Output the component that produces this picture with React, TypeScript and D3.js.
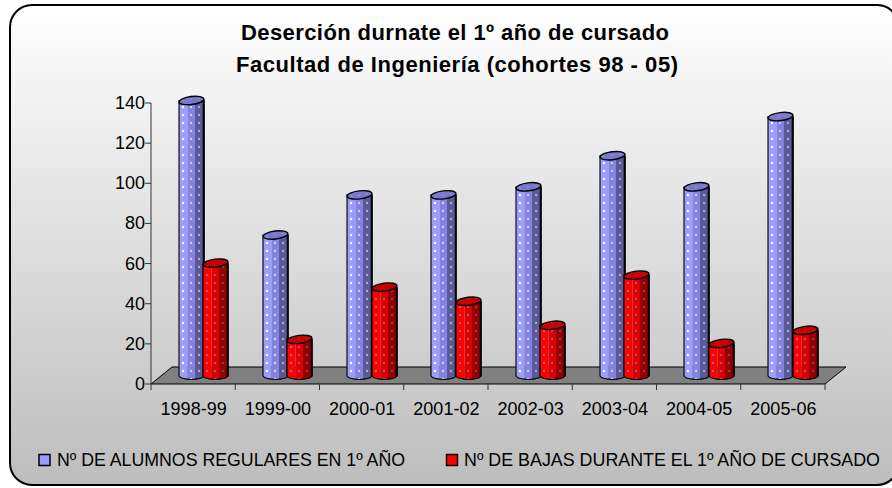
import React from "react";
import * as d3 from "d3";

const categories = ["1998-99", "1999-00", "2000-01", "2001-02", "2002-03", "2003-04", "2004-05", "2005-06"];
const regulares = [137, 70, 90, 90, 94, 109.5, 94, 129];
const bajas = [56, 18, 44, 37, 25, 50, 16, 22.5];
const yTicks = [0, 20, 40, 60, 80, 100, 120, 140];
const titleLines = ["Deserción durnate el 1º año de cursado", "Facultad de Ingeniería (cohortes 98 - 05)"];
const legendLabels = ["Nº DE ALUMNOS REGULARES EN 1º AÑO", "Nº DE BAJAS DURANTE EL 1º AÑO DE CURSADO"];

const W = 892, H = 488;
const FONT = "'Liberation Sans', Arial, sans-serif";
const y = d3.scaleLinear().domain([0, 140]).range([384, 103]);
const x = d3.scaleBand<string>().domain(categories).range([151, 825]);
const depthX = 21, depthY = 17;
const barW = 25, rx = 12.5, ry = 4;

function Cylinder({ cx, v, id }: { cx: number; v: number; id: string }) {
  const top = y(v) - depthY / 2;
  const base = y(0) - depthY / 2;
  const h = base - top;
  // local coordinates so that every bar's stripes and dots line up the same way
  const body = `M0,${top} L0,${base} A${rx},${ry} 0 0 0 ${barW},${base} L${barW},${top} Z`;
  const cid = `clip-${id}-${Math.round(cx)}`;
  return (
    <g transform={`translate(${Math.round(cx - rx)},0)`}>
      <clipPath id={cid}><path d={body} /></clipPath>
      <g clipPath={`url(#${cid})`}>
        <rect x={0} y={top} width={8.5} height={h + ry + 1} fill={`url(#${id}-a)`} />
        <rect x={8.5} y={top} width={7.5} height={h + ry + 1} fill={`url(#${id}-b)`} />
        <rect x={16} y={top} width={8} height={h + ry + 1} fill={`url(#${id}-c)`} />
      </g>
      <path d={body} fill="none" stroke="#000" strokeWidth={1.1} />
      <line x1={barW - 0.3} x2={barW - 0.3} y1={top} y2={base + 1} stroke="#000" strokeWidth={2} />
      <ellipse cx={rx} cy={top} rx={rx} ry={ry} fill={`url(#${id}-t)`} stroke="#000" strokeWidth={1.4} transform={`rotate(-7 ${rx} ${top})`} />
    </g>
  );
}

function Pat({ id, bg, dot, halo }: { id: string; bg: string; dot: string; halo: string }) {
  return (
    <pattern id={id} width={8} height={8} patternUnits="userSpaceOnUse">
      <rect width={8} height={8} fill={bg} />
      <rect x={2.5} y={1.5} width={3} height={3} fill={halo} opacity={0.3} />
      <rect x={3} y={2} width={2} height={2} fill={dot} />
    </pattern>
  );
}

export default function App() {
  const band = x.bandwidth();
  const [floorA, floorB] = x.range();
  return (
    <svg width={W} height={H} style={{ position: "absolute", left: 0, top: 0, display: "block" }}>
      <defs>
        <linearGradient id="bg" x1="0" x2="0" y1="0" y2="1">
          <stop offset="0" stopColor="#ffffff" />
          <stop offset="1" stopColor="#bdbdbd" />
        </linearGradient>
        <Pat id="blue-a" bg="#9c9cff" dot="#ffffff" halo="#ccccff" />
        <Pat id="blue-b" bg="#8282e0" dot="#d0d0f4" halo="#a8a8e8" />
        <Pat id="blue-c" bg="#5a5a9a" dot="#a8a8c0" halo="#8080a8" />
        <Pat id="blue-t" bg="#7a7acc" dot="#8888d8" halo="#7a7acc" />
        <Pat id="red-a" bg="#ff0000" dot="#c86090" halo="#e03050" />
        <Pat id="red-b" bg="#dc0000" dot="#a85080" halo="#c02840" />
        <Pat id="red-c" bg="#960000" dot="#804060" halo="#902030" />
        <Pat id="red-t" bg="#c80000" dot="#b02030" halo="#c00010" />
      </defs>
      <rect x={10} y={5} width={W - 3} height={480} rx={22} fill="url(#bg)" stroke="#000" strokeWidth={2} />
      <text x={455} y={40} fontFamily={FONT} fontSize={22} fontWeight={700} textAnchor="middle" textLength={428} lengthAdjust="spacing">{titleLines[0]}</text>
      <text x={457} y={72} fontFamily={FONT} fontSize={22} fontWeight={700} textAnchor="middle" textLength={442} lengthAdjust="spacing">{titleLines[1]}</text>

      <path d={`M${floorA},${y(0)} L${floorA + depthX},${y(0) - depthY} L${floorB + depthX},${y(0) - depthY} L${floorB},${y(0)} Z`} fill="#808080" stroke="#000" strokeWidth={1} />
      <line x1={floorA} x2={floorA} y1={y(140)} y2={y(0)} stroke="#333" strokeWidth={1} />
      {yTicks.map((t) => (
        <g key={t}>
          <line x1={floorA - 6} x2={floorA} y1={y(t)} y2={y(t)} stroke="#333" />
          <text x={floorA - 6} y={y(t) + 6} fontFamily={FONT} fontSize={18} textAnchor="end" fill="#000">{t}</text>
        </g>
      ))}
      {categories.map((c) => (
        <line key={c} x1={x(c)!} x2={x(c)!} y1={y(0)} y2={y(0) + 6} stroke="#333" />
      ))}
      <line x1={floorB} x2={floorB} y1={y(0)} y2={y(0) + 6} stroke="#333" />
      {categories.map((c) => (
        <text key={c} x={x(c)! + band / 2 + 0.5} y={415} fontFamily={FONT} fontSize={18} textAnchor="middle" fill="#000">{c}</text>
      ))}
      {categories.map((c, i) => {
        const cx0 = x(c)! + 40;
        return (
          <g key={c}>
            <Cylinder cx={cx0} v={regulares[i]} id="blue" />
            <Cylinder cx={cx0 + 24.5} v={bajas[i]} id="red" />
          </g>
        );
      })}

      <rect x={39} y={454.5} width={11} height={11} fill="#9999ff" stroke="#000" strokeWidth={1.5} />
      <text x={57} y={466} fontFamily={FONT} fontSize={18} textLength={348} lengthAdjust="spacingAndGlyphs">{legendLabels[0]}</text>
      <rect x={446.5} y={454.5} width={11} height={11} fill="#ff0000" stroke="#000" strokeWidth={1.5} />
      <text x={464} y={466} fontFamily={FONT} fontSize={18} textLength={416} lengthAdjust="spacingAndGlyphs">{legendLabels[1]}</text>
    </svg>
  );
}
